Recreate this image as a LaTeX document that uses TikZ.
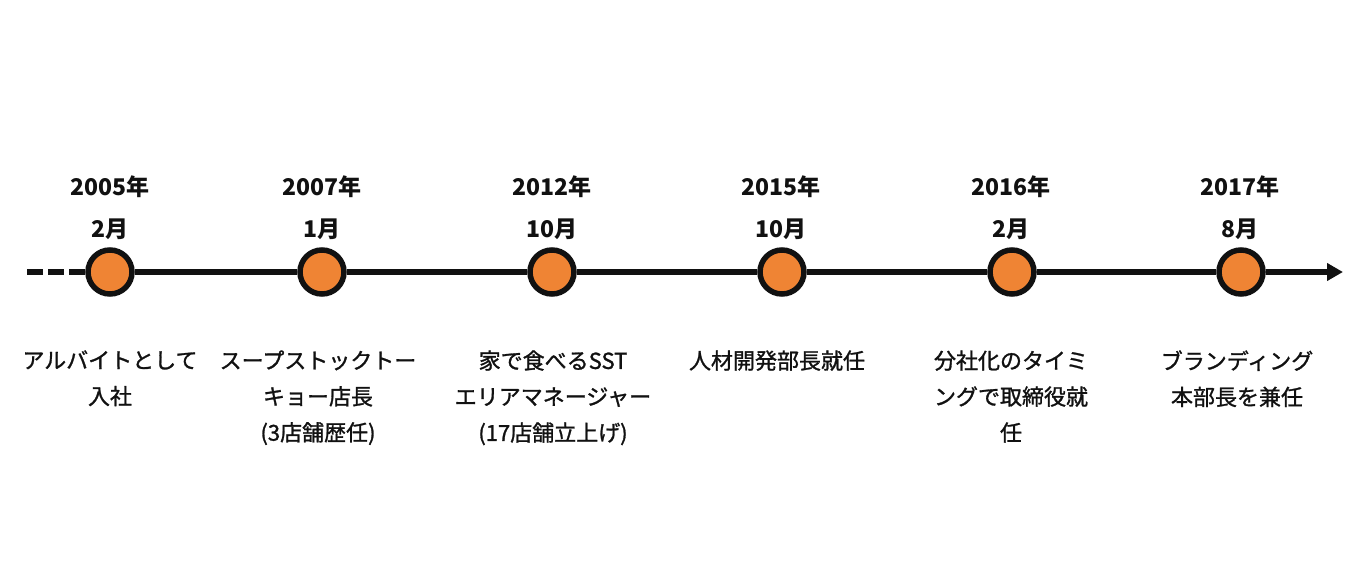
\documentclass[tikz,border=0pt]{standalone}
\usepackage{fontspec}
\setmainfont{Noto Sans CJK JP}
\newfontfamily\descfont[FakeBold=1.2]{Noto Sans CJK JP}
\usepackage{xcolor}
\usepackage{tikz}
\usetikzlibrary{arrows.meta, positioning}
\definecolor{dotorange}{RGB}{239,132,52}
\definecolor{inkblack}{RGB}{17,17,17}

\begin{document}
\begin{tikzpicture}[
  x=0.5pt, y=-0.5pt,
  event/.style={circle, draw=inkblack, line width=2.75pt, fill=dotorange,
                minimum size=22pt, inner sep=0pt},
  yearlbl/.style={font=\fontsize{11.5}{14}\selectfont\bfseries, text=inkblack},
  desc/.style={anchor=north, align=center, text=inkblack, inner sep=0pt,
               font=\descfont\fontsize{11}{18}\selectfont},
  axis/.style={draw=inkblack, line width=2.6pt}
]
\useasboundingbox (0,0) rectangle (1360,584);

% time points
\node[event] (p05) at (110,272) {};
\node[event] (p07) at (322,272) {};
\node[event] (p12) at (552,272) {};
\node[event] (p15) at (782,272) {};
\node[event] (p16) at (1012,272) {};
\node[event] (p17) at (1241,272) {};
\coordinate (past) at (27,272);
\coordinate (now) at (1343,272);

% axis
\draw[axis, dash pattern=on 8pt off 2.5pt] (past) -- (p05);
\draw[axis] (p05) -- (p07) -- (p12) -- (p15) -- (p16) -- (p17);
\draw[axis, -{Triangle[length=8pt, width=8.5pt]}] (p17) -- (now);

% dates
\node[yearlbl] (y05) at (110,187) {2005年};
\node[yearlbl] (m05) at (110,229) {2月};
\node[yearlbl] (y07) at (322,187) {2007年};
\node[yearlbl] (m07) at (322,229) {1月};
\node[yearlbl] (y12) at (552,187) {2012年};
\node[yearlbl] (m12) at (552,229) {10月};
\node[yearlbl] (y15) at (781,187) {2015年};
\node[yearlbl] (m15) at (781,229) {10月};
\node[yearlbl] (y16) at (1011,187) {2016年};
\node[yearlbl] (m16) at (1011,229) {2月};
\node[yearlbl] (y17) at (1240,187) {2017年};
\node[yearlbl] (m17) at (1240,229) {8月};

% what happened
\node[desc] (d05) at (110,350) {アルバイトとして\\入社};
\node[desc] (d07) at (318,350) {スープストックトー\\キョー店長\\(3店舗歴任)};
\node[desc] (d12) at (553,350) {家で食べるSST\\エリアマネージャー\\(17店舗立上げ)};
\node[desc] (d15) at (777,350) {人材開発部長就任};
\node[desc] (d16) at (1011,350) {分社化のタイミ\\ングで取締役就\\任};
\node[desc] (d17) at (1237,350) {ブランディング\\本部長を兼任};
\end{tikzpicture}
\end{document}
